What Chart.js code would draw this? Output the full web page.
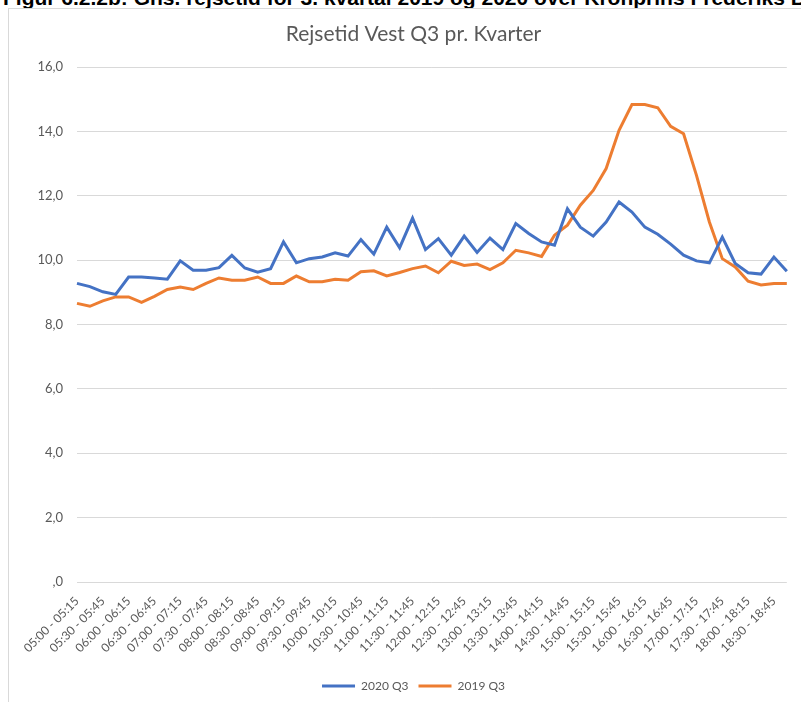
<!DOCTYPE html>
<html>
<head>
<meta charset="utf-8">
<script src="https://cdn.jsdelivr.net/npm/chart.js@4.4.1/dist/chart.umd.min.js"></script>
<style>
  html, body { margin: 0; padding: 0; background: #fff; overflow: hidden; }
  body { width: 801px; height: 702px; position: relative; }
  #caption {
    position: absolute; left: 3px; top: -13px; white-space: nowrap;
    font: bold 21px "Liberation Sans", Arial, sans-serif; line-height: 21px; color: #000;
  }
  #frame {
    position: absolute; left: 8px; top: 8px; width: 900px; height: 800px;
    border: 1px solid #d9d9d9; box-sizing: border-box;
  }
  #chartWrap { position: absolute; left: 0; top: 0; width: 801px; height: 702px; }
</style>
</head>
<body>
<div id="caption">Figur 6.2.2b: Gns. rejsetid for 3. kvartal 2019 og 2020 over Kronprins Frederiks Bro</div>
<div id="frame"></div>
<div id="chartWrap"><canvas id="rejsetidChart"></canvas></div>
<script>
const categories = [
  '05:00 - 05:15', '05:15 - 05:30', '05:30 - 05:45', '05:45 - 06:00',
  '06:00 - 06:15', '06:15 - 06:30', '06:30 - 06:45', '06:45 - 07:00',
  '07:00 - 07:15', '07:15 - 07:30', '07:30 - 07:45', '07:45 - 08:00',
  '08:00 - 08:15', '08:15 - 08:30', '08:30 - 08:45', '08:45 - 09:00',
  '09:00 - 09:15', '09:15 - 09:30', '09:30 - 09:45', '09:45 - 10:00',
  '10:00 - 10:15', '10:15 - 10:30', '10:30 - 10:45', '10:45 - 11:00',
  '11:00 - 11:15', '11:15 - 11:30', '11:30 - 11:45', '11:45 - 12:00',
  '12:00 - 12:15', '12:15 - 12:30', '12:30 - 12:45', '12:45 - 13:00',
  '13:00 - 13:15', '13:15 - 13:30', '13:30 - 13:45', '13:45 - 14:00',
  '14:00 - 14:15', '14:15 - 14:30', '14:30 - 14:45', '14:45 - 15:00',
  '15:00 - 15:15', '15:15 - 15:30', '15:30 - 15:45', '15:45 - 16:00',
  '16:00 - 16:15', '16:15 - 16:30', '16:30 - 16:45', '16:45 - 17:00',
  '17:00 - 17:15', '17:15 - 17:30', '17:30 - 17:45', '17:45 - 18:00',
  '18:00 - 18:15', '18:15 - 18:30', '18:30 - 18:45', '18:45 - 19:00'
];

const q3_2020 = [
  9.28, 9.18, 9.02, 8.94, 9.48, 9.48, 9.45, 9.41,
  9.98, 9.69, 9.69, 9.77, 10.15, 9.76, 9.63, 9.74,
  10.57, 9.92, 10.05, 10.10, 10.23, 10.13, 10.64, 10.19,
  11.03, 10.39, 11.31, 10.33, 10.67, 10.16, 10.75, 10.24,
  10.69, 10.33, 11.14, 10.83, 10.57, 10.47, 11.60, 11.03,
  10.75, 11.19, 11.81, 11.50, 11.03, 10.81, 10.50, 10.16,
  9.98, 9.92, 10.72, 9.90, 9.61, 9.57, 10.10, 9.66
];

const q3_2019 = [
  8.66, 8.57, 8.74, 8.86, 8.86, 8.69, 8.88, 9.09,
  9.17, 9.09, 9.28, 9.45, 9.38, 9.38, 9.48, 9.28,
  9.28, 9.51, 9.33, 9.33, 9.41, 9.38, 9.64, 9.67,
  9.51, 9.62, 9.74, 9.82, 9.61, 9.97, 9.84, 9.88,
  9.71, 9.92, 10.31, 10.23, 10.12, 10.78, 11.09, 11.71,
  12.17, 12.85, 14.04, 14.84, 14.84, 14.74, 14.16, 13.93,
  12.64, 11.19, 10.05, 9.79, 9.35, 9.23, 9.28, 9.28
];

const yTickLabels = [',0', '2,0', '4,0', '6,0', '8,0', '10,0', '12,0', '14,0', '16,0'];

const seriesNames = ['2020 Q3', '2019 Q3'];
const chartTitle = 'Rejsetid Vest Q3 pr. Kvarter';

const textGrey = '#595959';
const gridGrey = '#d9d9d9';

const ctx = document.getElementById('rejsetidChart').getContext('2d');
new Chart(ctx, {
  type: 'line',
  data: {
    labels: categories,
    datasets: [{
      label: seriesNames[0],
      data: q3_2020,
      borderColor: '#4472C4',
      backgroundColor: '#4472C4',
      borderWidth: 3,
      pointRadius: 0,
      tension: 0
    }, {
      label: seriesNames[1],
      data: q3_2019,
      borderColor: '#ED7D31',
      backgroundColor: '#ED7D31',
      borderWidth: 3,
      pointRadius: 0,
      tension: 0
    }]
  },
  options: {
    responsive: true,
    maintainAspectRatio: false,
    animation: false,
    // left padding is wider than the y axis needs so title/legend sit a bit right of centre, like the source
    layout: { padding: { left: 34, right: 8, top: 10, bottom: 0 } },
    plugins: {
      title: {
        display: true,
        text: chartTitle,
        color: textGrey,
        font: { family: 'Lato', size: 21, weight: 'normal' },
        padding: { top: 12, bottom: 20 }
      },
      legend: {
        position: 'bottom',
        labels: {
          color: textGrey,
          font: { family: 'Lato', size: 12 },
          usePointStyle: true,
          pointStyle: 'line',
          pointStyleWidth: 33,
          padding: 10
        }
      },
      tooltip: { enabled: false }
    },
    scales: {
      x: {
        grid: { display: false },
        border: { display: false },
        ticks: {
          color: textGrey,
          font: { family: 'Lato', size: 12 },
          autoSkip: false,
          minRotation: 45,
          maxRotation: 45,
          padding: 4,
          callback: function(value, index) {
            return index % 2 === 0 ? categories[index] : '';
          }
        },
        afterFit: function(scale) { scale.height = 88; }
      },
      y: {
        min: 0,
        max: 16,
        border: { display: false },
        grid: { color: gridGrey, drawTicks: false },
        ticks: {
          stepSize: 2,
          color: textGrey,
          font: { family: 'Lato', size: 13 },
          padding: 14,
          callback: function(value) { return yTickLabels[Math.round(value / 2)]; }
        },
        afterFit: function(scale) { scale.width = 43; }
      }
    }
  }
});
</script>
</body>
</html>
